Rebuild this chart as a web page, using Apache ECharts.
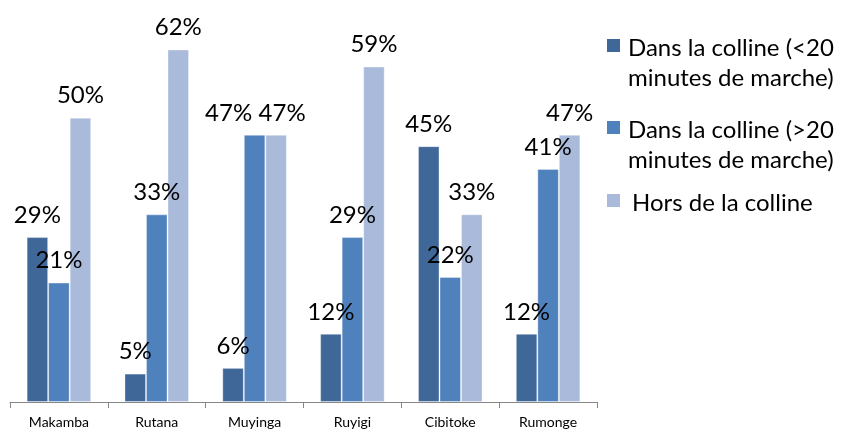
<!DOCTYPE html>
<html>
<head>
<meta charset="utf-8">
<script src="https://cdn.jsdelivr.net/npm/echarts@6/dist/echarts.min.js"></script>
<style>
  html, body { margin: 0; padding: 0; background: #fff; }
  #chart { width: 845px; height: 439px; }
</style>
</head>
<body>
<div id="chart"></div>
<script>
// données (%)
const categories = ['Makamba', 'Rutana', 'Muyinga', 'Ruyigi', 'Cibitoke', 'Rumonge']
const seriesNames = [
  'Dans la colline (<20\nminutes de marche)',
  'Dans la colline (>20\nminutes de marche)',
  'Hors de la colline'
]
const moins20 = [29, 5, 6, 12, 45, 12]
const plus20 = [21, 33, 47, 29, 22, 41]
const horsColline = [50, 62, 47, 59, 33, 47]

const colors = ['#3F6899', '#4F81BD', '#A9BADA']
const font = 'Lato, "Open Sans", sans-serif'

const chart = echarts.init(document.getElementById('chart'))

// décalage des étiquettes qui se chevauchent (Muyinga : 47% / 47%)
const labelShift = { '1-2': -26, '2-2': 6 }

function makeSeries(name, data, i) {
  return {
    name: name,
    type: 'bar',
    data: data,
    barGap: '0%',
    barCategoryGap: '34%',
    itemStyle: { color: colors[i], borderColor: 'rgba(255,255,255,0.35)', borderWidth: 1 },
    label: {
      show: true,
      position: 'top',
      distance: 10,
      formatter: '{c}%',
      color: '#000',
      fontFamily: font,
      fontSize: 24
    },
    labelLayout: (params) => {
      const dx = labelShift[i + '-' + params.dataIndex]
      return dx ? { dx: dx, hideOverlap: false } : { hideOverlap: false }
    },
    emphasis: { disabled: true }
  }
}

// légende dessinée à la main : carré aligné sur la première ligne
const legendY = [33, 115, 188]
const legendGraphic = []
seriesNames.forEach((name, i) => {
  legendGraphic.push({
    type: 'rect',
    left: 607,
    top: legendY[i] + 6,
    shape: { width: 13, height: 13 },
    style: { fill: colors[i] }
  })
  legendGraphic.push({
    type: 'text',
    left: i === 2 ? 632 : 628,
    top: legendY[i],
    style: {
      text: name,
      fill: '#000',
      font: '24px ' + font,
      lineHeight: 30
    }
  })
})

const option = {
  animation: false,
  grid: { left: 10, right: 248, top: 4, bottom: 37, containLabel: false },
  xAxis: {
    type: 'category',
    data: categories,
    axisLine: { lineStyle: { color: '#868686', width: 1 } },
    axisTick: { show: true, length: 6, lineStyle: { color: '#868686' } },
    axisLabel: { color: '#000', fontFamily: font, fontSize: 14, margin: 13 }
  },
  yAxis: {
    type: 'value',
    min: 0,
    max: 70,
    show: false
  },
  tooltip: { show: false },
  graphic: legendGraphic,
  series: [
    makeSeries(seriesNames[0], moins20, 0),
    makeSeries(seriesNames[1], plus20, 1),
    makeSeries(seriesNames[2], horsColline, 2)
  ]
}

chart.setOption(option)
</script>
</body>
</html>
